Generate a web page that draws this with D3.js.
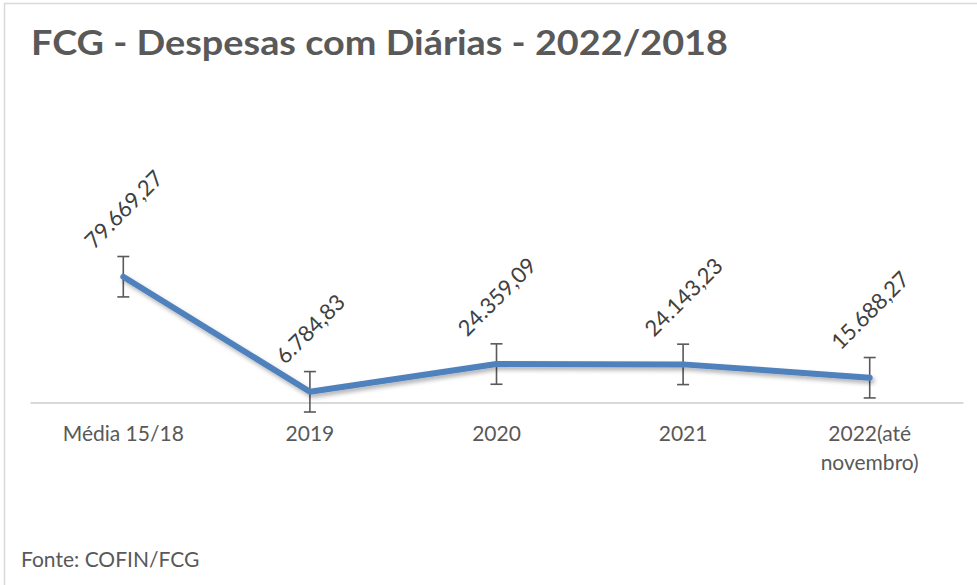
<!DOCTYPE html>
<html>
<head>
<meta charset="utf-8">
<script src="https://cdn.jsdelivr.net/npm/d3@7"></script>
<style>
  body { margin: 0; background: #fff; }
  svg { display: block; font-family: Lato, "Open Sans", sans-serif; }
</style>
</head>
<body>
<div id="chart-area"></div>
<script>
var categories = ["Média 15/18", "2019", "2020", "2021", "2022(até\nnovembro)"];
var values = [79669.27, 6784.83, 24359.09, 24143.23, 15688.27];
var valueLabels = ["79.669,27", "6.784,83", "24.359,09", "24.143,23", "15.688,27"];

var width = 977;
var height = 585;

var svg = d3.select("#chart-area").append("svg")
	.attr("width", width)
	.attr("height", height);

// outer chart frame (only left and top edges are inside the picture)
svg.append("rect")
	.attr("x", 4.5).attr("y", 3.5)
	.attr("width", width + 10).attr("height", height + 10)
	.attr("fill", "#fff")
	.attr("stroke", "#d9d9d9")
	.attr("stroke-width", 1.5);

var defs = svg.append("defs");
var shadow = defs.append("filter").attr("id", "shadow")
	.attr("x", "-10%").attr("y", "-20%").attr("width", "130%").attr("height", "160%");
shadow.append("feDropShadow")
	.attr("dx", 2).attr("dy", 3)
	.attr("stdDeviation", 2.2)
	.attr("flood-color", "#000")
	.attr("flood-opacity", 0.3);

var x = d3.scaleBand()
	.domain(categories)
	.range([30, 963])
	.padding(0);

var y = d3.scaleLinear()
	.domain([0, 90000])
	.range([402.5, 260.4]);

// Excel style standard error bars
var stdErr = d3.deviation(values) / Math.sqrt(values.length);

var data = categories.map((c, i) => {
	return {cat: c, value: values[i], label: valueLabels[i]};
});
var cx = (d) => { return x(d.cat) + x.bandwidth() / 2; };

// title
svg.append("text")
	.attr("x", 31)
	.attr("y", 55)
	.attr("font-size", "34px")
	.attr("font-weight", "bold")
	.attr("fill", "#595959")
	.attr("textLength", 697)
	.attr("lengthAdjust", "spacingAndGlyphs")
	.text("FCG - Despesas com Diárias - 2022/2018");

// category axis
var bottomAxis = d3.axisBottom(x).tickSize(0).tickSizeOuter(0).tickFormat("");
var axisG = svg.append("g")
	.attr("class", "bottom axis")
	.attr("transform", "translate(0," + y(0) + ")")
	.call(bottomAxis);
axisG.select(".domain")
	.attr("stroke", "#d9d9d9")
	.attr("stroke-width", 2);

var tickLabels = svg.append("g").selectAll("text").data(categories)
	.enter().append("text")
	.attr("x", (d) => { return x(d) + x.bandwidth() / 2; })
	.attr("y", 441)
	.attr("text-anchor", "middle")
	.attr("font-size", "21px")
	.attr("fill", "#595959");
tickLabels.selectAll("tspan")
	.data((d) => { return d.split("\n"); })
	.enter().append("tspan")
	.attr("x", function() { return this.parentNode.getAttribute("x"); })
	.attr("dy", (d, i) => { return i === 0 ? 0 : 29; })
	.text((d) => { return d; });

// error bars
var errG = svg.append("g").attr("stroke", "#595959").attr("stroke-width", 1.6).attr("fill", "none");
data.forEach((d) => {
	var top = y(d.value + stdErr);
	var bot = y(d.value - stdErr);
	errG.append("line").attr("x1", cx(d)).attr("x2", cx(d)).attr("y1", top).attr("y2", bot);
	errG.append("line").attr("x1", cx(d) - 6).attr("x2", cx(d) + 6).attr("y1", top).attr("y2", top);
	errG.append("line").attr("x1", cx(d) - 6).attr("x2", cx(d) + 6).attr("y1", bot).attr("y2", bot);
});

// the line
var line = d3.line()
	.x(cx)
	.y((d) => { return y(d.value); });
svg.append("path")
	.datum(data)
	.attr("d", line)
	.attr("fill", "none")
	.attr("stroke", "#4f81bd")
	.attr("stroke-width", 6)
	.attr("stroke-linecap", "round")
	.attr("stroke-linejoin", "round")
	.attr("filter", "url(#shadow)");

// rotated value labels, placed above each point
var labels = svg.append("g").selectAll("text").data(data)
	.enter().append("text")
	.attr("text-anchor", "middle")
	.attr("dominant-baseline", "central")
	.attr("font-size", "22px")
	.attr("fill", "#404040")
	.text((d) => { return d.label; });
labels.each(function(d) {
	var len = this.getComputedTextLength();
	var half = (len + 16) / (2 * Math.SQRT2);
	var px = cx(d);
	var py = y(d.value) - 27 - half;
	d3.select(this)
		.attr("x", px).attr("y", py)
		.attr("transform", "rotate(-45," + px + "," + py + ")");
});

// source note
svg.append("text")
	.attr("x", 21)
	.attr("y", 567)
	.attr("font-size", "21px")
	.attr("fill", "#595959")
	.text("Fonte: COFIN/FCG");
</script>
</body>
</html>
